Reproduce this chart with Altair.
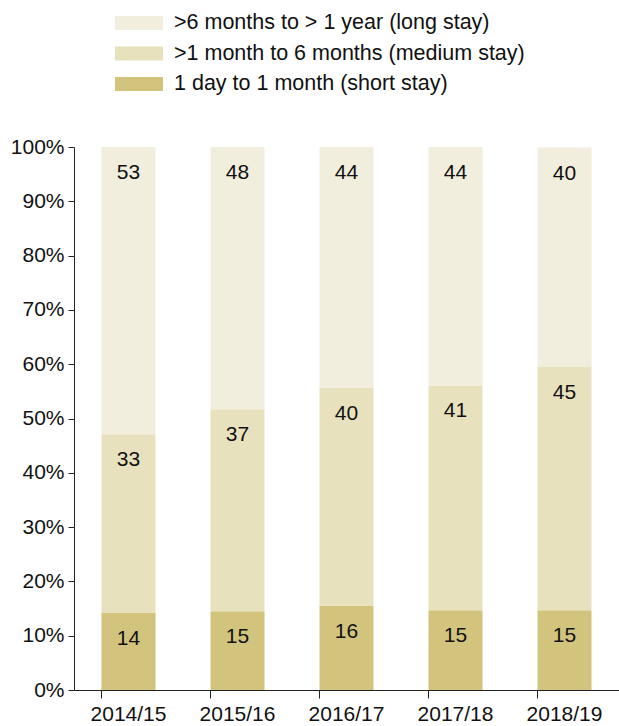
import altair as alt
import pandas as pd

years = ["2014/15", "2015/16", "2016/17", "2017/18", "2018/19"]
short_stay = [14.2, 14.5, 15.5, 14.7, 14.7]
medium_stay = [32.9, 37.2, 40.1, 41.4, 44.8]
long_stay = [52.9, 48.3, 44.4, 43.9, 40.4]

cats = [">6 months to > 1 year (long stay)",
        ">1 month to 6 months (medium stay)",
        "1 day to 1 month (short stay)"]
colors = ["#F2EEDE", "#E8E1BD", "#D3C47D"]

rows = []
for i, y in enumerate(years):
    rows.append({"year": y, "cat": cats[2], "val": short_stay[i], "ord": 0})
    rows.append({"year": y, "cat": cats[1], "val": medium_stay[i], "ord": 1})
    rows.append({"year": y, "cat": cats[0], "val": long_stay[i], "ord": 2})
df = pd.DataFrame(rows)

FONT = "Liberation Sans, Arial, sans-serif"

base = alt.Chart(df).transform_stack(
    stack="val", groupby=["year"], as_=["v0", "v1"], sort=[alt.SortField("ord", order="ascending")]
)

bars = base.mark_bar(size=54).encode(
    x=alt.X("year:N", sort=years, title=None,
            scale=alt.Scale(paddingInner=0.5, paddingOuter=0.25),
            axis=alt.Axis(labelAngle=0, bandPosition=0, tickSize=8, labelPadding=5,
                          labelFontSize=21, labelFont=FONT, labelColor="#111",
                          domainColor="#222", tickColor="#222")),
    y=alt.Y("v0:Q", title=None,
            scale=alt.Scale(domain=[0, 100], nice=False),
            axis=alt.Axis(values=list(range(0, 101, 10)), labelExpr="datum.value + '%'",
                          tickSize=6, labelPadding=4, grid=False,
                          labelFontSize=21, labelFont=FONT, labelColor="#111",
                          domainColor="#222", tickColor="#222")),
    y2="v1:Q",
    color=alt.Color("cat:N", scale=alt.Scale(domain=cats, range=colors),
                    legend=alt.Legend(title=None, orient="none", legendX=53, legendY=-136,
                                      symbolType="M-2,-0.58H2V0.58H-2Z", symbolSize=576,
                                      symbolStrokeWidth=0, labelFontSize=21.5, labelFont=FONT,
                                      labelColor="#111", rowPadding=7.5, labelOffset=23,
                                      labelLimit=500)),
)

labels = base.mark_text(fontSize=21, font=FONT, color="#111", baseline="middle", dy=26).encode(
    x=alt.X("year:N", sort=years),
    y=alt.Y("v1:Q"),
    text=alt.Text("val:Q", format=".0f"),
)

chart = alt.layer(bars, labels).properties(
    width=545, height=543,
    padding={"left": 74, "top": 147, "right": 0, "bottom": 36},
    autosize=alt.AutoSizeParams(type="none"),
).configure_view(stroke=None)

chart.save("out.html", embed_options={"renderer": "svg", "actions": False})
